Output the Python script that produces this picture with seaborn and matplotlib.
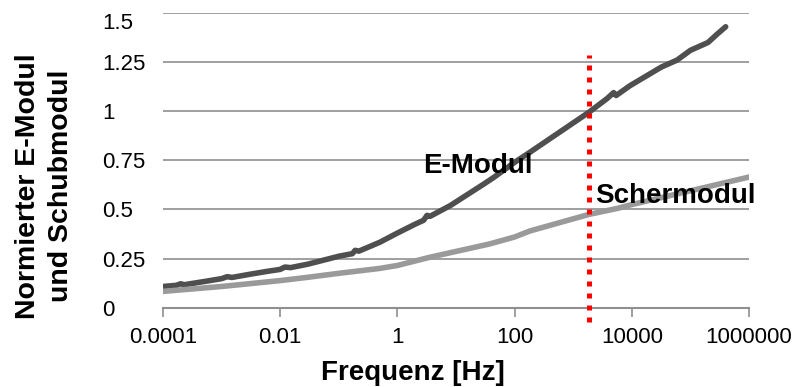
import matplotlib
matplotlib.use("Agg")

import numpy as np
import pandas as pd
import matplotlib.pyplot as plt
from matplotlib import font_manager
import seaborn as sns

# ── Data ──────────────────────────────────────────────────────────────────────
e_freq = [1e-4, 1.7e-4, 2.0e-4, 2.3e-4, 5e-4, 1e-3, 1.25e-3, 1.5e-3, 3e-3, 6e-3,
          0.01, 0.012, 0.015, 0.03, 0.06, 0.1, 0.17, 0.19, 0.22, 0.5,
          1, 2, 2.8, 3.2, 3.6, 8, 30, 45, 100, 180,
          1860, 3800, 4900, 5400, 9300, 3.2e4, 5.9e4, 1e5, 2e5, 2.8e5, 4e5]
e_modul = [0.108, 0.114, 0.122, 0.117, 0.133, 0.148, 0.158, 0.154, 0.170, 0.185,
           0.195, 0.207, 0.204, 0.222, 0.245, 0.262, 0.275, 0.292, 0.288, 0.333,
           0.380, 0.425, 0.445, 0.470, 0.465, 0.520, 0.630, 0.665, 0.740, 0.790,
           0.995, 1.065, 1.095, 1.080, 1.130, 1.225, 1.260, 1.310, 1.350, 1.390, 1.430]

g_freq = [1e-4, 1e-3, 1e-2, 0.03, 0.1, 0.5, 1, 3.6, 8, 38,
          100, 180, 1860, 5600, 1e4, 1e5, 1e6]
schermodul = [0.083, 0.108, 0.138, 0.155, 0.175, 0.200, 0.215, 0.257, 0.280, 0.325,
              0.360, 0.390, 0.475, 0.505, 0.525, 0.595, 0.665]

marker_freq = [1860, 1860]
marker_y = [-0.072, 1.284]

x_ticks = [1e-4, 1e-2, 1, 1e2, 1e4, 1e6]
x_ticklabels = ["0.0001", "0.01", "1", "100", "10000", "1000000"]
y_ticks = [0, 0.25, 0.5, 0.75, 1, 1.25, 1.5]
y_ticklabels = ["0", "0.25", "0.5", "0.75", "1", "1.25", "1.5"]

# ── Style ─────────────────────────────────────────────────────────────────────
DARK = "#4f4f4f"
LIGHT = "#9a9a9a"
GRID = "#8f8f8f"

sns.set_theme(style="white", rc={"lines.linewidth": 4.0})
plt.rcParams["font.family"] = ["Liberation Sans", "DejaVu Sans"]


def narrow_family():
    try:
        font_manager.findfont("Liberation Sans Narrow", fallback_to_default=False)
        return ["Liberation Sans Narrow", "Liberation Sans", "DejaVu Sans"], 24
    except Exception:
        return ["Liberation Sans", "DejaVu Sans"], 20


NARROW, NARROW_SIZE = narrow_family()

df = pd.concat([
    pd.DataFrame({"freq": e_freq, "val": e_modul, "kind": "E-Modul"}),
    pd.DataFrame({"freq": g_freq, "val": schermodul, "kind": "Schermodul"}),
])

fig = plt.figure(figsize=(7.98, 3.87), dpi=100)
ax = fig.add_axes([0.2043, 0.2049, 0.7343, 0.7615])

sns.lineplot(data=df, x="freq", y="val", hue="kind", palette=[DARK, LIGHT],
             estimator=None, sort=False, legend=False, ax=ax, zorder=3,
             lw=4.0, solid_capstyle="round", solid_joinstyle="round")

# red dotted marker line
ax.plot(marker_freq, marker_y, color="#ff0000", lw=3.6,
        linestyle=(0, (1, 1.4)), clip_on=False, zorder=4)

ax.set_xscale("log")
ax.set_xlim(1e-4, 1e6)
ax.set_ylim(0, 1.5)
ax.set_xticks(x_ticks)
ax.set_xticklabels(x_ticklabels)
ax.minorticks_off()
ax.set_yticks(y_ticks)
ax.set_yticklabels(y_ticklabels, ha="left")
ax.get_yticklabels()[-1].set_va("top")

ax.yaxis.grid(True, color=GRID, lw=1.2)
ax.set_axisbelow(True)
for side in ["top", "right", "left"]:
    ax.spines[side].set_visible(False)
ax.spines["bottom"].set_color(GRID)
ax.spines["bottom"].set_linewidth(1.5)

ax.tick_params(axis="x", bottom=True, length=6.5, width=1.2, color=GRID,
               pad=7.5, labelsize=16, labelcolor="black")
ax.tick_params(axis="y", left=False, length=0, pad=44, labelsize=16,
               labelcolor="black")

ax.set_xlabel("Frequenz [Hz]", fontsize=20, fontweight="bold", color="black",
              va="baseline")
ax.xaxis.set_label_coords(0.427, -0.245)
ax.set_ylabel("Normierter E-Modul\nund Schubmodul", fontsize=20.5,
              fontweight="bold", color="black", va="center", linespacing=1.35)
ax.yaxis.set_label_coords(-0.203, 0.413)

ax.text(0.4437, 0.457, "E-Modul", transform=ax.transAxes, family=NARROW,
        fontsize=NARROW_SIZE, fontweight="bold", color="black",
        va="baseline", zorder=5)
ax.text(0.737, 0.355, "Schermodul", transform=ax.transAxes, family=NARROW,
        fontsize=NARROW_SIZE, fontweight="bold", color="black",
        va="baseline", zorder=5)

fig.savefig("out.png", dpi=100)
plt.close(fig)
